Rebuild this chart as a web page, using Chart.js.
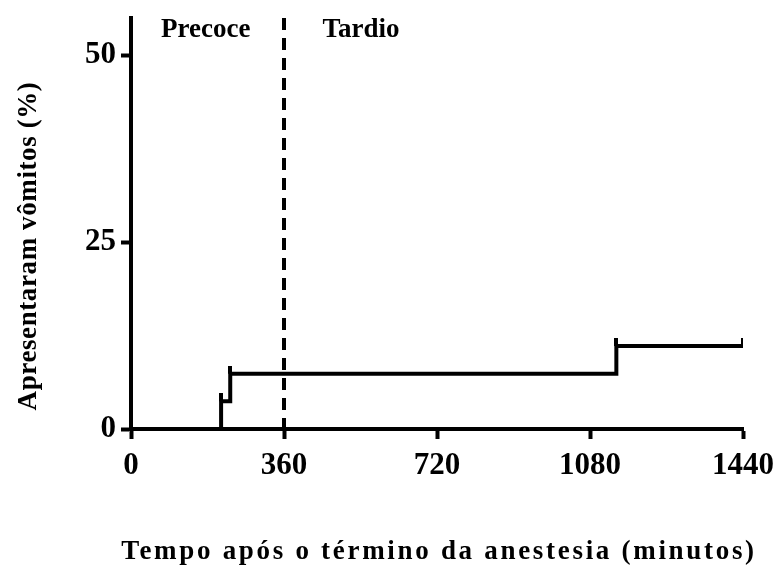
<!DOCTYPE html>
<html>
<head>
<meta charset="utf-8">
<script src="https://cdn.jsdelivr.net/npm/chart.js@4.4.1/dist/chart.umd.min.js"></script>
<style>
  html, body { margin: 0; padding: 0; background: #fff; }
  #wrap { width: 778px; height: 574px; }
</style>
</head>
<body>
<div id="wrap"><canvas id="vomitChart"></canvas></div>
<script>
// Kaplan-Meier style step curve (minutes after end of anesthesia, % with vomiting)
const stepMinutes = [0, 212, 233.5, 1142, 1440];
const stepPercent = [0, 3.7, 7.4, 11.1, 11.1];

// censor / event marks on the curve
const markMinutes = [212, 233.5, 1142, 1440];
const markPercent = [3.7, 7.4, 11.1, 11.1];

// early / late boundary
const boundaryMinute = 360;

const xTicks = [0, 360, 720, 1080, 1440];
const yTicks = [0, 25, 50];
const phaseNames = ["Precoce", "Tardio"];

const serif = "'Liberation Serif', 'Times New Roman', serif";

// vertical tick that only sticks up from the curve
const markCanvas = document.createElement("canvas");
markCanvas.width = 4;
markCanvas.height = 16;
const mctx = markCanvas.getContext("2d");
mctx.fillStyle = "#000";
mctx.fillRect(0, 0, 4, 8);

const annotations = {
  id: "annotations",
  afterDraw(chart) {
    const { ctx, chartArea } = chart;
    const x = chart.scales.x;
    const y = chart.scales.y;
    ctx.save();
    ctx.fillStyle = "#000";
    ctx.font = "bold 27px " + serif;
    ctx.textAlign = "center";
    ctx.textBaseline = "alphabetic";
    ctx.fillText(phaseNames[0], x.getPixelForValue(176), y.getPixelForValue(52.5));
    ctx.fillText(phaseNames[1], x.getPixelForValue(541), y.getPixelForValue(52.5));

    // axis titles (spaced out like the original)
    ctx.font = "bold 27px " + serif;
    if ("letterSpacing" in ctx) ctx.letterSpacing = "2.7px";
    ctx.fillText(
      "Tempo após o término da anestesia (minutos)",
      (chartArea.left + chartArea.right) / 2 + 2,
      559
    );

    if ("letterSpacing" in ctx) ctx.letterSpacing = "0.6px";
    ctx.translate(29, 246);
    ctx.rotate(-Math.PI / 2);
    ctx.textBaseline = "middle";
    ctx.fillText("Apresentaram vômitos (%)", 0, 0);
    ctx.restore();
  },
};

const ctx = document.getElementById("vomitChart").getContext("2d");

new Chart(ctx, {
  type: "line",
  data: {
    datasets: [
      {
        label: "Vômitos",
        data: stepMinutes.map((m, i) => ({ x: m, y: stepPercent[i] })),
        borderColor: "#000",
        borderWidth: 4,
        stepped: "before",
        pointRadius: 0,
        borderCapStyle: "butt",
        borderJoinStyle: "miter",
        fill: false,
      },
      {
        label: "Marcas",
        data: markMinutes.map((m, i) => ({ x: m, y: markPercent[i] })),
        showLine: false,
        pointStyle: markCanvas,
        pointRadius: 8,
      },
      {
        label: "Limite",
        data: [
          { x: boundaryMinute, y: 55 },
          { x: boundaryMinute, y: 0 },
        ],
        borderColor: "#000",
        borderWidth: 4,
        borderDash: [12, 8],
        pointRadius: 0,
        borderCapStyle: "butt",
      },
    ],
  },
  options: {
    responsive: true,
    maintainAspectRatio: false,
    animation: false,
    layout: { padding: { top: 18, right: 35, bottom: 0, left: 0 } },
    plugins: {
      legend: { display: false },
      tooltip: { enabled: false },
    },
    scales: {
      x: {
        type: "linear",
        min: 0,
        max: 1440,
        afterBuildTicks: (scale) => {
          scale.ticks = xTicks.map((v) => ({ value: v }));
        },
        afterFit: (scale) => {
          scale.height = 145;
          scale.paddingLeft = 0;
          scale.paddingRight = 0;
        },
        grid: {
          drawOnChartArea: false,
          drawTicks: true,
          tickLength: 10,
          tickWidth: 4,
          tickColor: "#000",
        },
        border: { display: true, color: "#000", width: 4 },
        ticks: {
          color: "#000",
          padding: 8,
          maxRotation: 0,
          callback: (v) => String(v),
          font: { family: serif, size: 31, weight: "bold" },
        },
      },
      y: {
        type: "linear",
        min: 0,
        max: 55,
        afterBuildTicks: (scale) => {
          scale.ticks = yTicks.map((v) => ({ value: v }));
        },
        afterFit: (scale) => {
          scale.width = 131;
          scale.paddingTop = 0;
          scale.paddingBottom = 0;
        },
        grid: {
          drawOnChartArea: false,
          drawTicks: true,
          tickLength: 10,
          tickWidth: 4,
          tickColor: "#000",
        },
        border: { display: true, color: "#000", width: 4 },
        ticks: {
          color: "#000",
          padding: 5,
          callback: (v) => String(v),
          font: { family: serif, size: 31, weight: "bold" },
        },
      },
    },
  },
  plugins: [annotations],
});
</script>
</body>
</html>
